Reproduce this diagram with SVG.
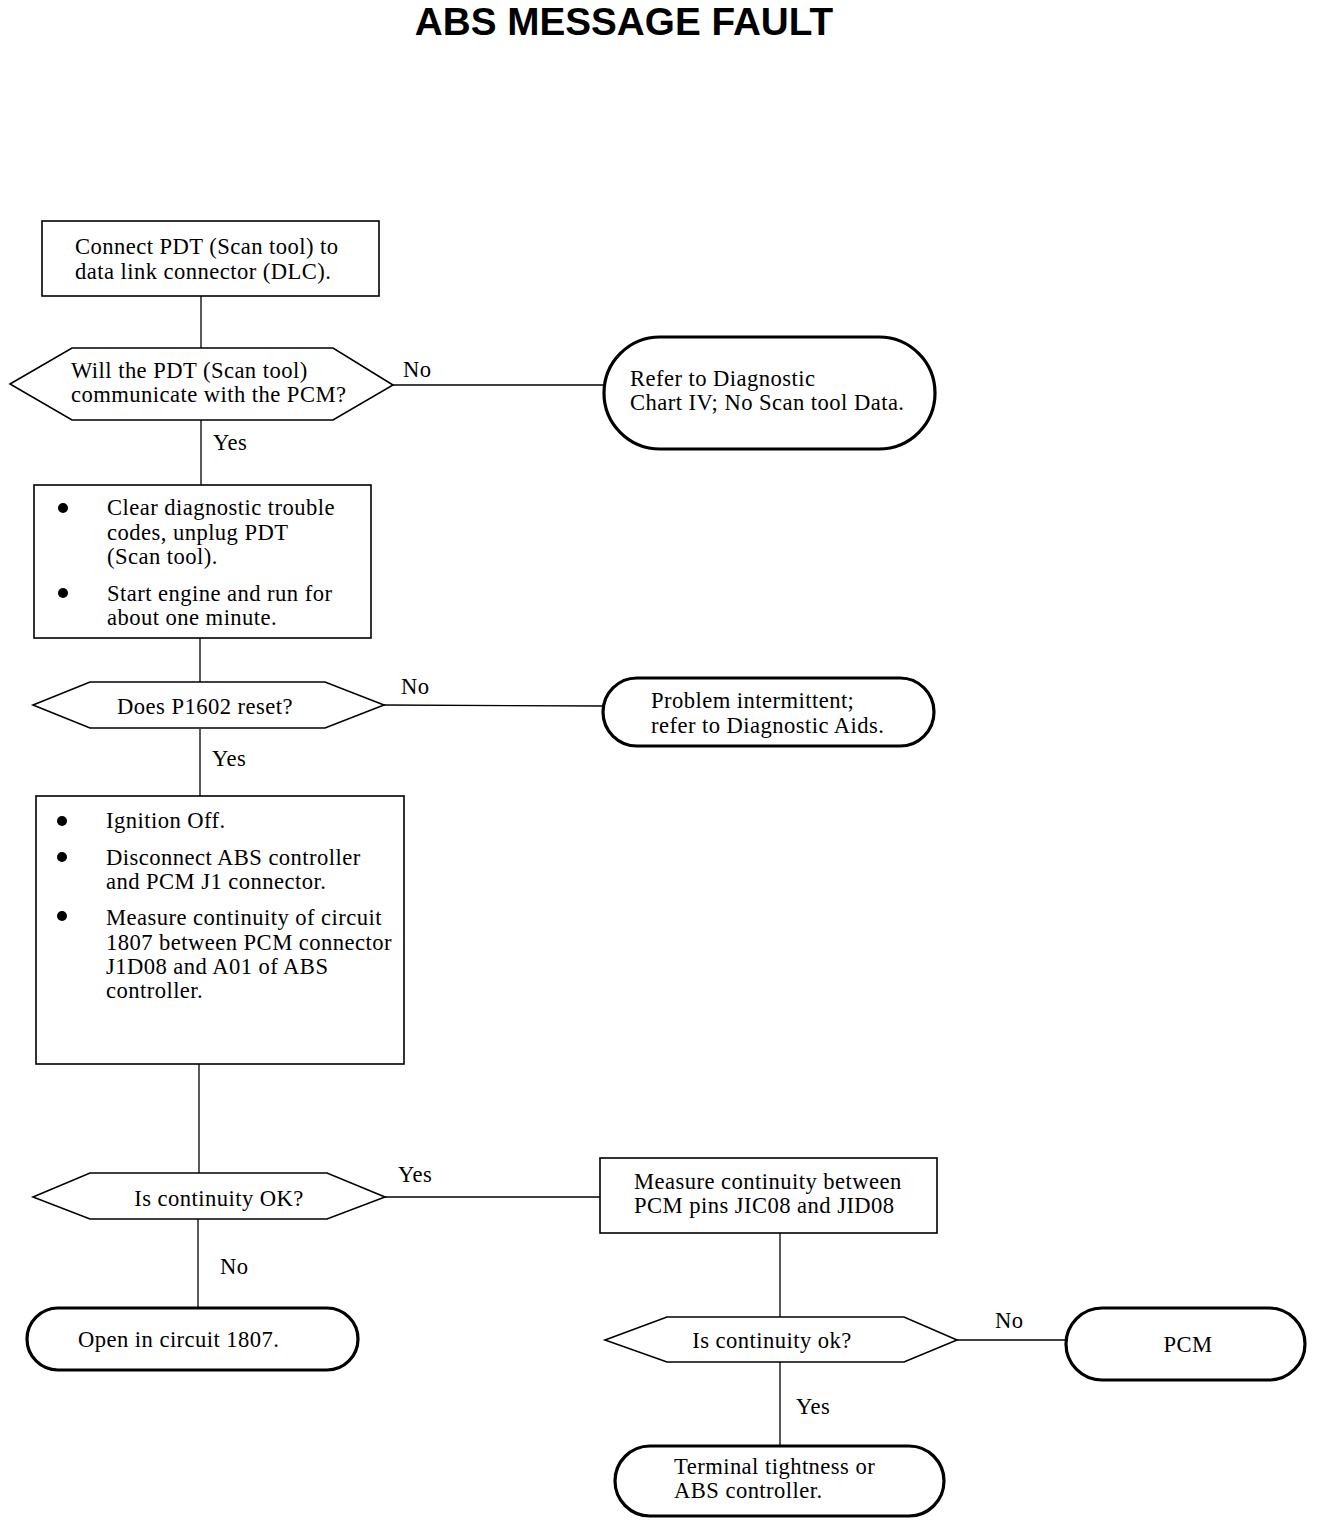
<svg xmlns="http://www.w3.org/2000/svg" width="1344" height="1524" viewBox="0 0 1344 1524">
<style>
.t{font-family:"Liberation Serif","Times New Roman",serif;font-size:22.6px;letter-spacing:0.45px;fill:#000}
.c{text-anchor:middle}
.title{font-family:"Liberation Sans",Arial,sans-serif;font-weight:bold;font-size:38.7px;text-anchor:middle;fill:#000}
.box{fill:#fff;stroke:#000;stroke-width:1.6}
.dec{fill:#fff;stroke:#000;stroke-width:1.6}
.term{fill:#fff;stroke:#000;stroke-width:3.2}
.ln{fill:none;stroke:#000;stroke-width:1.3}
</style>
<rect width="1344" height="1524" fill="#fff"/>
<text class="title" x="624" y="35">ABS MESSAGE FAULT</text>

<g id="connectors">
<line class="ln" x1="201" y1="296" x2="201" y2="348"/>
<line class="ln" x1="393" y1="385" x2="604" y2="385"/>
<line class="ln" x1="201" y1="420" x2="201" y2="485"/>
<line class="ln" x1="200" y1="638" x2="200" y2="683"/>
<line class="ln" x1="384" y1="705" x2="604" y2="706"/>
<line class="ln" x1="200" y1="729" x2="200" y2="796"/>
<line class="ln" x1="199" y1="1064" x2="199" y2="1173"/>
<line class="ln" x1="385" y1="1197" x2="600" y2="1197"/>
<line class="ln" x1="198" y1="1219" x2="198" y2="1309"/>
<line class="ln" x1="780" y1="1233" x2="780" y2="1317"/>
<line class="ln" x1="957" y1="1340" x2="1066" y2="1340"/>
<line class="ln" x1="780" y1="1362" x2="780" y2="1446"/>
<text class="t" x="403" y="377">No</text>
<text class="t" x="213" y="450">Yes</text>
<text class="t" x="401" y="694">No</text>
<text class="t" x="212" y="766">Yes</text>
<text class="t" x="398" y="1182">Yes</text>
<text class="t" x="220" y="1274">No</text>
<text class="t" x="995" y="1328">No</text>
<text class="t" x="796" y="1414">Yes</text>
</g>

<g id="n1">
<rect class="box" x="42" y="221" width="337" height="75"/>
<text class="t" x="75" y="254">Connect PDT (Scan tool) to</text>
<text class="t" x="75" y="279">data link connector (DLC).</text>
</g>

<g id="d1">
<polygon class="dec" points="10,384 72,348 333,348 393,385 333,420 72,420"/>
<text class="t" x="71" y="378">Will the PDT (Scan tool)</text>
<text class="t" x="71" y="402">communicate with the PCM?</text>
</g>

<g id="t1">
<rect class="term" x="604" y="337" width="331" height="112" rx="56" ry="56"/>
<text class="t" x="630" y="386">Refer to Diagnostic</text>
<text class="t" x="630" y="410">Chart IV; No Scan tool Data.</text>
</g>

<g id="n2">
<rect class="box" x="34" y="485" width="337" height="153"/>
<circle cx="63" cy="508" r="5"/>
<circle cx="63" cy="593" r="5"/>
<text class="t" x="107" y="515">Clear diagnostic trouble</text>
<text class="t" x="107" y="540">codes, unplug PDT</text>
<text class="t" x="107" y="564">(Scan tool).</text>
<text class="t" x="107" y="601">Start engine and run for</text>
<text class="t" x="107" y="625">about one minute.</text>
</g>

<g id="d2">
<polygon class="dec" points="33,705 90,682 325,682 384,705 325,728 90,728"/>
<text class="t c" x="205" y="714">Does P1602 reset?</text>
</g>

<g id="t2">
<rect class="term" x="603" y="678" width="331" height="68" rx="34" ry="34"/>
<text class="t" x="651" y="708">Problem intermittent;</text>
<text class="t" x="651" y="733">refer to Diagnostic Aids.</text>
</g>

<g id="n3">
<rect class="box" x="36" y="796" width="368" height="268"/>
<circle cx="62" cy="821" r="5"/>
<circle cx="62" cy="857" r="5"/>
<circle cx="62" cy="916" r="5"/>
<text class="t" x="106" y="828">Ignition Off.</text>
<text class="t" x="106" y="865">Disconnect ABS controller</text>
<text class="t" x="106" y="889">and PCM J1 connector.</text>
<text class="t" x="106" y="925">Measure continuity of circuit</text>
<text class="t" x="106" y="950">1807 between PCM connector</text>
<text class="t" x="106" y="974">J1D08 and A01 of ABS</text>
<text class="t" x="106" y="998">controller.</text>
</g>

<g id="d3">
<polygon class="dec" points="33,1197 90,1173 327,1173 385,1197 327,1219 90,1219"/>
<text class="t c" x="219" y="1206">Is continuity OK?</text>
</g>

<g id="t3">
<rect class="term" x="27" y="1308" width="331" height="62" rx="31" ry="31"/>
<text class="t" x="78" y="1347">Open in circuit 1807.</text>
</g>

<g id="n4">
<rect class="box" x="600" y="1158" width="337" height="75"/>
<text class="t" x="634" y="1189">Measure continuity between</text>
<text class="t" x="634" y="1213">PCM pins JIC08 and JID08</text>
</g>

<g id="d4">
<polygon class="dec" points="605,1340 667,1317 904,1317 957,1340 904,1362 667,1362"/>
<text class="t c" x="772" y="1348">Is continuity ok?</text>
</g>

<g id="t4">
<rect class="term" x="1066" y="1308" width="239" height="72" rx="36" ry="36"/>
<text class="t c" x="1188" y="1352">PCM</text>
</g>

<g id="t5">
<rect class="term" x="615" y="1446" width="329" height="70" rx="35" ry="35"/>
<text class="t" x="674" y="1474">Terminal tightness or</text>
<text class="t" x="674" y="1498">ABS controller.</text>
</g>
</svg>
